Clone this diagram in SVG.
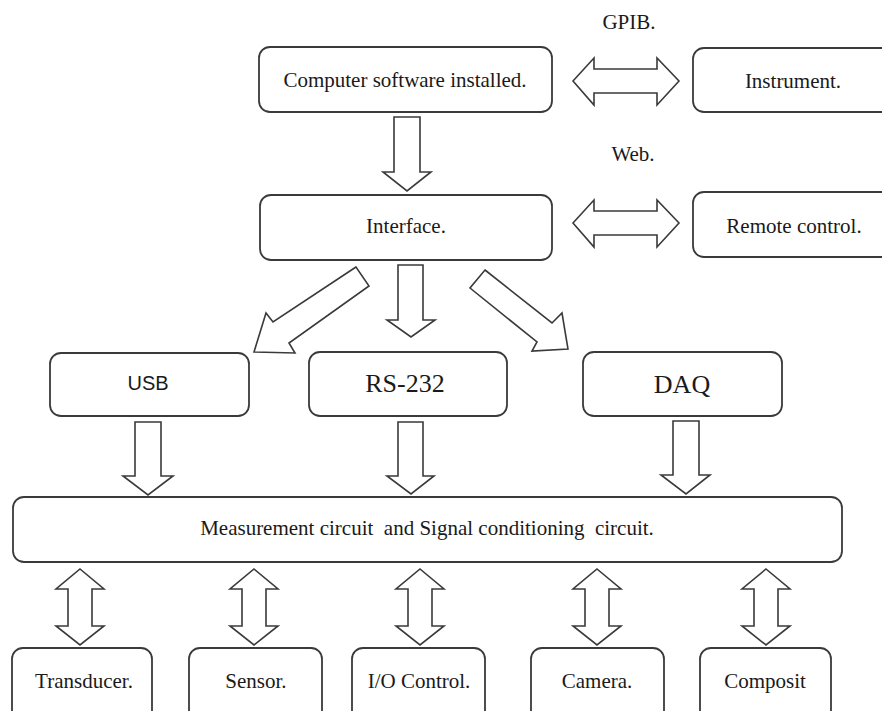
<svg xmlns="http://www.w3.org/2000/svg" width="882" height="711" viewBox="0 0 882 711">
<style>
.box{fill:#fff;stroke:#3a3a3a;stroke-width:1.8}
.arr{fill:#fff;stroke:#3a3a3a;stroke-width:1.6;stroke-linejoin:miter}
.lbl{font-family:"Liberation Serif","Times New Roman",serif;font-size:21px;fill:#1a1a1a;text-anchor:middle}
.big{font-family:"Liberation Serif","Times New Roman",serif;font-size:26px;fill:#1a1a1a;text-anchor:middle}
.sans{font-family:"Liberation Sans",Arial,sans-serif;font-size:20px;fill:#1a1a1a;text-anchor:middle}
</style>
<rect width="882" height="711" fill="#fff"/>
<defs>
<path id="dv" d="M0,569 L24,589 L12,589 L12,626 L24,626 L0,645 L-24,626 L-12,626 L-12,589 L-24,589 Z"/>
</defs>
<g id="connectors">
<polygon class="arr" points="394,117 420,117 420,172 431,172 407,191 383,172 394,172"/>
<polygon class="arr" points="573,81 594,58 594,69 657,69 657,58 679,81 657,105 657,93 594,93 594,105"/>
<polygon class="arr" points="573,223 594,200 594,211 657,211 657,200 679,223 657,247 657,235 594,235 594,247"/>
<polygon class="arr" points="398,265 423,265 423,320 435,320 411,337 387,320 398,320"/>
<polygon class="arr" points="356,267 273,322 266,313 254,352 295,353 289,343 369,286"/>
<polygon class="arr" points="485,270 552,323 562,313 568,349 532,351 537,342 470,288"/>
<polygon class="arr" points="135,422 161,422 161,476 173,476 148,495 123,476 135,476"/>
<polygon class="arr" points="398,422 423,422 423,476 434,476 411,494 387,476 398,476"/>
<polygon class="arr" points="673,421 699,421 699,475 710,475 686,494 661,475 673,475"/>
<use href="#dv" class="arr" transform="translate(80,0)"/>
<use href="#dv" class="arr" transform="translate(254,0)"/>
<use href="#dv" class="arr" transform="translate(420,0)"/>
<use href="#dv" class="arr" transform="translate(597,0)"/>
<use href="#dv" class="arr" transform="translate(766,0)"/>
</g>
<g font-family="'Liberation Serif', 'Times New Roman', serif">
<g id="label-gpib"><text class="lbl" x="629" y="29">GPIB.</text></g>
<g id="label-web"><text class="lbl" x="633" y="161">Web.</text></g>
<g id="computer"><rect class="box" x="259" y="47" width="293" height="65" rx="11"/><text class="lbl" x="405" y="87">Computer software installed.</text></g>
<g id="instrument"><rect class="box" x="693" y="48" width="220" height="64" rx="11"/><text class="lbl" x="793" y="88">Instrument.</text></g>
<g id="interface"><rect class="box" x="260" y="195" width="292" height="65" rx="11"/><text class="lbl" x="406" y="233">Interface.</text></g>
<g id="remote"><rect class="box" x="693" y="192" width="220" height="65" rx="11"/><text class="lbl" x="794" y="233">Remote control.</text></g>
<g id="usb"><rect class="box" x="50" y="353" width="199" height="63" rx="11"/><text class="sans" x="148" y="390">USB</text></g>
<g id="rs232"><rect class="box" x="309" y="352" width="198" height="64" rx="11"/><text class="big" x="405" y="392">RS-232</text></g>
<g id="daq"><rect class="box" x="583" y="352" width="199" height="64" rx="11"/><text class="big" x="682" y="393">DAQ</text></g>
<g id="measurement"><rect class="box" x="13" y="497" width="829" height="65" rx="11"/><text class="lbl" x="427" y="535" xml:space="preserve">Measurement circuit  and Signal conditioning  circuit.</text></g>
<g id="transducer"><rect class="box" x="12" y="648" width="140" height="80" rx="11"/><text class="lbl" x="84" y="688">Transducer.</text></g>
<g id="sensor"><rect class="box" x="189" y="648" width="133" height="80" rx="11"/><text class="lbl" x="256" y="688">Sensor.</text></g>
<g id="io"><rect class="box" x="352" y="648" width="133" height="80" rx="11"/><text class="lbl" x="419" y="688">I/O Control.</text></g>
<g id="camera"><rect class="box" x="531" y="648" width="133" height="80" rx="11"/><text class="lbl" x="597" y="688">Camera.</text></g>
<g id="composit"><rect class="box" x="700" y="648" width="131" height="80" rx="11"/><text class="lbl" x="765" y="688">Composit</text></g>
</g>
</svg>
